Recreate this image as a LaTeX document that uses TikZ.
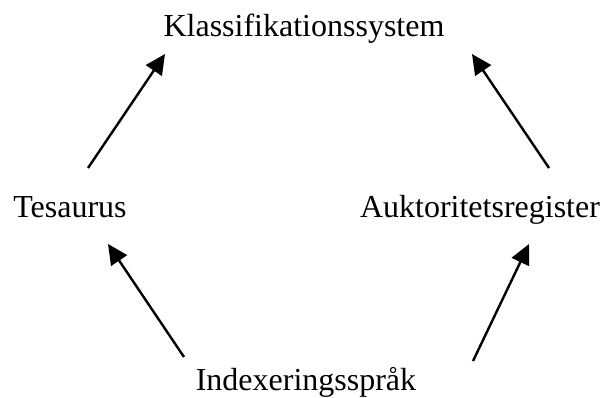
\documentclass[tikz,border=0pt]{standalone}
\usepackage{fontspec}
\setmainfont{Liberation Serif}
\usetikzlibrary{arrows.meta}

\begin{document}
\begin{tikzpicture}[x=1pt,y=-1pt,
		term/.style={anchor=base,inner sep=0pt,font=\fontsize{32}{38}\selectfont},
		pil/.style={line width=2.4pt,-{Triangle[length=20pt,width=19pt]}}]
		\useasboundingbox (0,0) rectangle (602,397);
		\node[term] (klass) at (304,36) {Klassifikationssystem};
		\node[term] (tes) at (70,217) {Tesaurus};
		\node[term] (auk) at (480,217) {Auktoritetsregister};
		\node[term] (index) at (306,390) {Indexeringsspråk};
		\coordinate (tes1) at (88,168);
		\coordinate (klass1) at (165,54);
		\coordinate (auk1) at (549,168);
		\coordinate (klass2) at (472,54);
		\coordinate (index1) at (184,357);
		\coordinate (tes2) at (108,244);
		\coordinate (index2) at (473,361);
		\coordinate (auk2) at (529,244);
		\draw[pil] (tes1) to (klass1);
		\draw[pil] (auk1) to (klass2);
		\draw[pil] (index1) to (tes2);
		\draw[pil] (index2) to (auk2);
	\end{tikzpicture}
\end{document}
